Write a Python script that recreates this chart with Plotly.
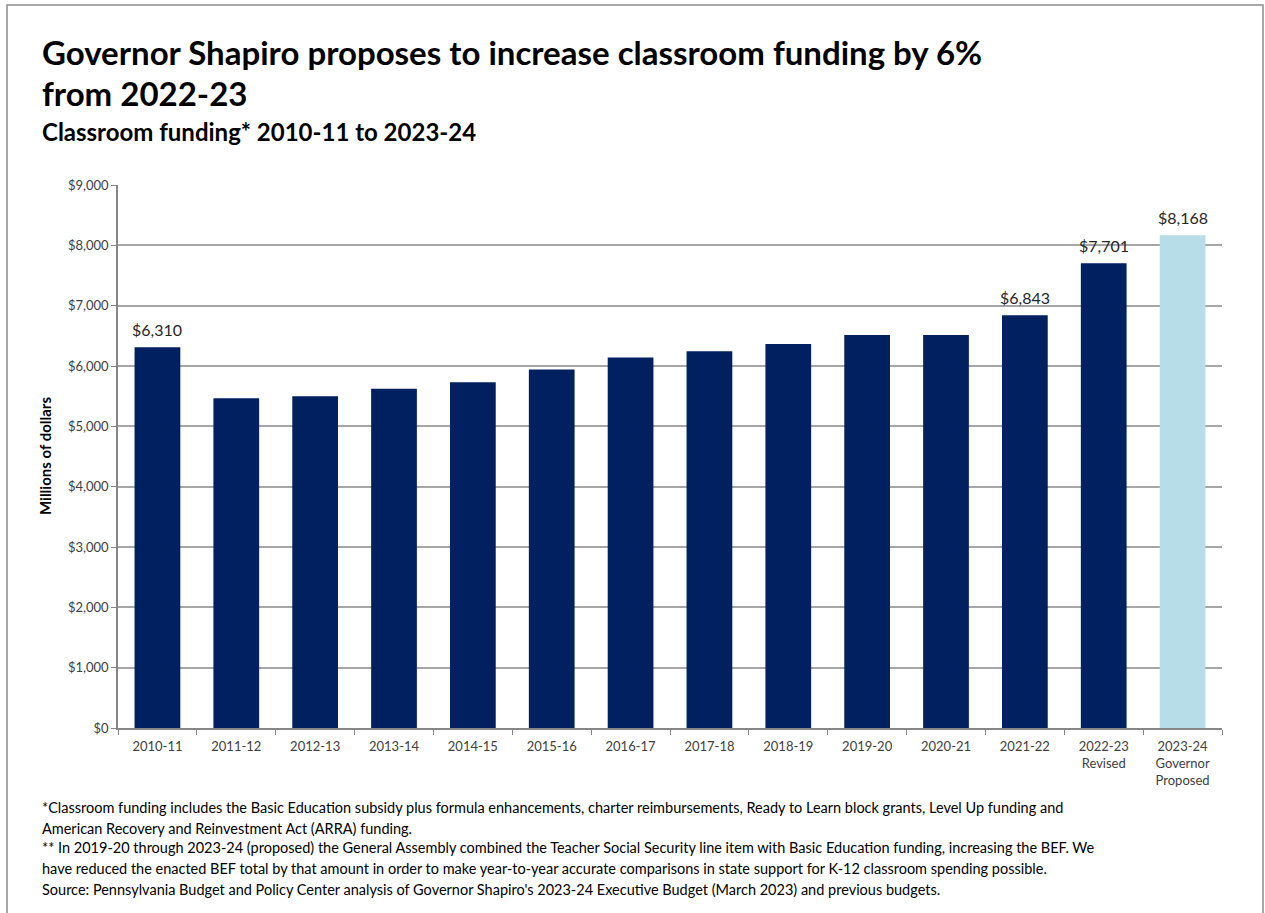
import plotly.graph_objects as go

# Classroom funding by fiscal year, millions of dollars
years = ["2010-11", "2011-12", "2012-13", "2013-14", "2014-15", "2015-16", "2016-17",
         "2017-18", "2018-19", "2019-20", "2020-21", "2021-22", "2022-23<br>Revised",
         "2023-24<br>Governor<br>Proposed"]
funding = [6310, 5465, 5500, 5625, 5730, 5940, 6140, 6245, 6365, 6515, 6515, 6843, 7701, 8168]
labeled = [True, False, False, False, False, False, False, False, False, False, False, True, True, True]
is_proposed = [False] * 13 + [True]

y_ticks = list(range(0, 9001, 1000))
y_tick_text = [f"${v:,}" for v in y_ticks]

NAVY = "#002060"
LIGHT = "#B7DEE8"
FONT = "Lato"

W, H = 1265, 913
L, R, T, B = 118, 43, 185, 185
pw, ph = W - L - R, H - T - B


def px_x(x):
    return (x - L) / pw


def px_y(y):
    return (H - B - y) / ph


bar_colors = [LIGHT if p else NAVY for p in is_proposed]

fig = go.Figure(go.Bar(
    x=years, y=funding,
    marker=dict(color=bar_colors, line=dict(width=0)),
    hoverinfo="x+y",
))

fig.update_layout(
    width=W, height=H, autosize=False,
    margin=dict(l=L, r=R, t=T, b=B),
    paper_bgcolor="white", plot_bgcolor="white",
    font=dict(family=FONT, color="#404040"),
    bargap=0.42, showlegend=False,
)

fig.update_xaxes(
    type="category", tickson="boundaries", ticks="outside", ticklen=5,
    tickcolor="#868686", showline=True, linecolor="#868686", linewidth=1.5,
    tickfont=dict(family=FONT, size=13, color="#404040"), showgrid=False,
    ticklabelstandoff=6,
)
fig.update_yaxes(
    range=[0, 9000], tickvals=y_ticks, ticktext=y_tick_text,
    ticks="outside", ticklen=5, tickcolor="#868686",
    showline=True, linecolor="#868686", linewidth=1.5,
    showgrid=True, gridcolor="#A6A6A6", gridwidth=1.5, zeroline=False,
    tickfont=dict(family=FONT, size=13, color="#404040"),
)

annotations = [
    dict(text="<b>Governor Shapiro proposes to increase classroom funding by 6%</b>",
         x=px_x(40), y=px_y(52), font=dict(size=33, color="black")),
    dict(text="<b>from 2022-23</b>",
         x=px_x(40), y=px_y(93), font=dict(size=33, color="black")),
    dict(text="<b>Classroom funding* 2010-11 to 2023-24</b>",
         x=px_x(40), y=px_y(132), font=dict(size=24, color="black")),
]
notes = [
    ("*Classroom funding includes the Basic Education subsidy plus formula enhancements, charter reimbursements, Ready to Learn block grants, Level Up funding and", 807),
    ("American Recovery and Reinvestment Act (ARRA) funding.", 828),
    ("** In 2019-20 through 2023-24 (proposed) the General Assembly combined the Teacher Social Security line item with Basic Education funding, increasing the BEF. We", 848),
    ("have reduced the enacted BEF total by that amount in order to make year-to-year accurate comparisons in state support for K-12 classroom spending possible.", 869),
    ("Source: Pennsylvania Budget and Policy Center analysis of Governor Shapiro's 2023-24 Executive Budget (March 2023) and previous budgets.", 889),
]
for txt, yy in notes:
    annotations.append(dict(text=txt, x=px_x(40), y=px_y(yy), font=dict(size=14.5, color="black")))

for a in annotations:
    a.update(xref="paper", yref="paper", xanchor="left", yanchor="middle", showarrow=False)

# Value labels above the highlighted bars
for cat, v, show in zip(years, funding, labeled):
    if show:
        annotations.append(dict(
            text=f"${v:,.0f}", x=cat, y=v, xref="x", yref="y",
            xanchor="center", yanchor="bottom", yshift=6, showarrow=False,
            font=dict(family=FONT, size=16, color="#262626"),
        ))

annotations.append(dict(
    text="<b>Millions of dollars</b>", xref="paper", yref="paper",
    x=px_x(45), y=px_y(456), textangle=-90, showarrow=False,
    xanchor="center", yanchor="middle", font=dict(size=15, color="black"),
))
fig.update_layout(annotations=annotations)

# Outer frame around the whole graphic
fig.add_shape(type="rect", xref="paper", yref="paper",
              x0=px_x(7), x1=px_x(1263), y0=px_y(5), y1=px_y(920),
              line=dict(color="#8C8C8C", width=1.5), fillcolor="rgba(0,0,0,0)", layer="below")

fig.write_html("out.html")
